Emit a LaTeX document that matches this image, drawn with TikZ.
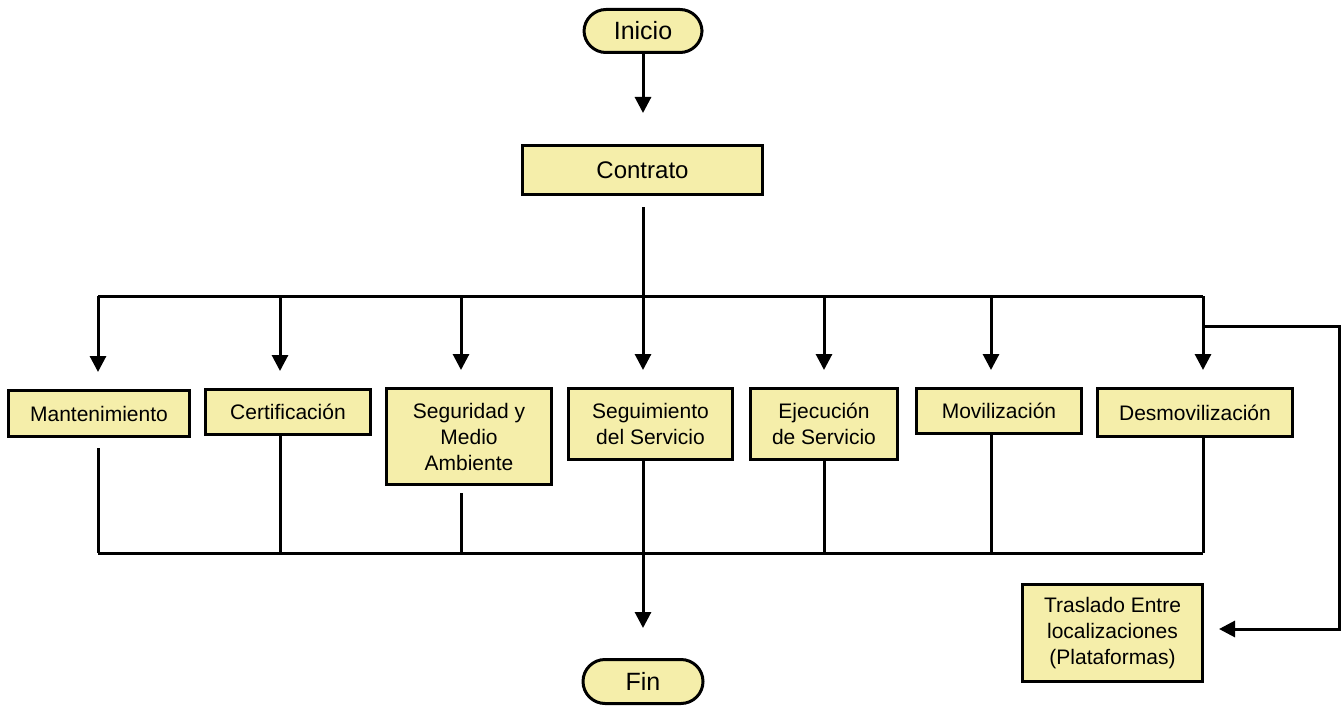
\documentclass[tikz,border=0pt]{standalone}
\usepackage{fontspec}
\setmainfont{Liberation Sans}
\usetikzlibrary{arrows.meta, shapes, positioning}
\definecolor{amarillo}{RGB}{245,238,170}

\begin{document}
\begin{tikzpicture}[x=1pt, y=-1pt, line width=3pt,
    caja/.style={draw, fill=amarillo, inner sep=0pt, align=center,
                 font=\fontsize{21}{26}\selectfont},
    extremo/.style={draw, fill=amarillo, inner sep=0pt, rounded corners=22pt,
                 minimum width=118pt, minimum height=43pt,
                 font=\fontsize{25}{30}\selectfont},
    flecha/.style={-{Triangle[length=16pt,width=16pt]}}]
          \useasboundingbox (0,0) rectangle (1343,706);

          \node[extremo] (inicio) at (643, 31) {Inicio};
          \node[caja, minimum width=240pt, minimum height=49pt,
                font=\fontsize{24}{28}\selectfont] (contrato) at (642.5, 170) {Contrato};

          \node[caja, minimum width=181pt, minimum height=46pt] (mant) at (99, 413.5) {Mantenimiento};
          \node[caja, minimum width=165pt, minimum height=45pt] (cert) at (288, 412) {Certificación};
          \node[caja, minimum width=165pt, minimum height=96pt] (segur) at (469, 436.5) {Seguridad y\\Medio\\Ambiente};
          \node[caja, minimum width=164pt, minimum height=71pt] (segui) at (650.5, 424) {Seguimiento\\del Servicio};
          \node[caja, minimum width=147pt, minimum height=71pt] (ejec) at (824, 424) {Ejecución\\de Servicio};
          \node[caja, minimum width=165pt, minimum height=45pt] (movil) at (999, 411) {Movilización};
          \node[caja, minimum width=195pt, minimum height=48pt] (desmov) at (1195, 412.5) {Desmovilización};
          \node[caja, minimum width=180pt, minimum height=97pt] (tras) at (1112.5, 633) {Traslado Entre\\localizaciones\\(Plataformas)};

          \node[extremo, minimum width=120pt, minimum height=44pt] (fin) at (643, 681.5) {Fin};

          % Bus points
          \coordinate (a1) at (98, 296);
          \coordinate (a2) at (280, 296);
          \coordinate (a3) at (461, 296);
          \coordinate (a4) at (643, 296);
          \coordinate (a5) at (824, 296);
          \coordinate (a6) at (991, 296);
          \coordinate (a7) at (1203, 296);
          \coordinate (b1) at (98, 553);
          \coordinate (b2) at (280, 553);
          \coordinate (b3) at (461, 553);
          \coordinate (b4) at (643, 553);
          \coordinate (b5) at (824, 553);
          \coordinate (b6) at (991, 553);
          \coordinate (b7) at (1203, 553);
          \coordinate (r1) at (1203, 326);
          \coordinate (r2) at (1339, 629);

          % Edges
          \draw[flecha, shorten >=31pt] (inicio) -- (inicio |- contrato.north);
          \draw[shorten <=11pt] (a4 |- contrato.south) -- (a4);
          \draw (a1) -- (a7);
          \draw[flecha, shorten >=17pt] (a1) -- (a1 |- mant.north);
          \draw[flecha, shorten >=17pt] (a2) -- (a2 |- cert.north);
          \draw[flecha, shorten >=17pt] (a3) -- (a3 |- segur.north);
          \draw[flecha, shorten >=17pt] (a4) -- (a4 |- segui.north);
          \draw[flecha, shorten >=17pt] (a5) -- (a5 |- ejec.north);
          \draw[flecha, shorten >=17pt] (a6) -- (a6 |- movil.north);
          \draw[flecha, shorten >=17pt] (a7) -- (a7 |- desmov.north);

          \draw[shorten <=10pt] (b1 |- mant.south) -- (b1);
          \draw (b2 |- cert.south) -- (b2);
          \draw[shorten <=7pt] (b3 |- segur.south) -- (b3);
          \draw (b4 |- segui.south) -- (b4);
          \draw (b5 |- ejec.south) -- (b5);
          \draw (b6 |- movil.south) -- (b6);
          \draw (b7 |- desmov.south) -- (b7);
          \draw (b1) -- (b7);

          \draw[flecha, shorten >=30pt] (b4) -- (fin.north);
          \draw[flecha, shorten >=15pt] (r1) -- (r1 -| r2) -- (r2) -- (r2 -| tras.east);
    \end{tikzpicture}
\end{document}
